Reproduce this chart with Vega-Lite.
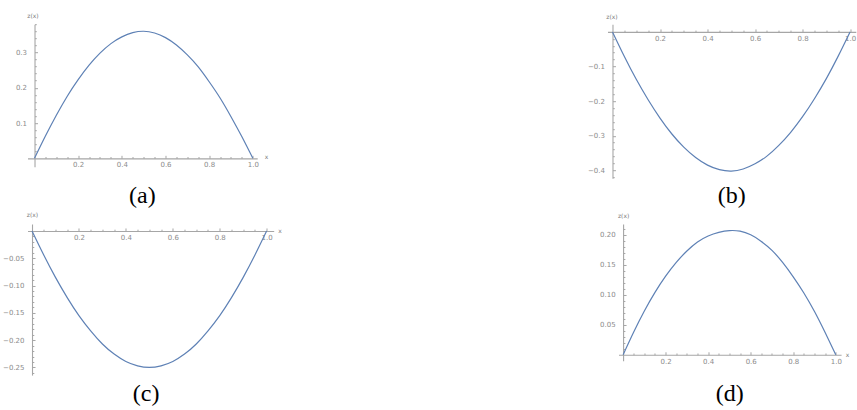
{
  "$schema": "https://vega.github.io/schema/vega-lite/v6.json",
  "padding": {"left": 2.5, "top": 12.2, "right": 0, "bottom": 0},
  "background": "white",
  "config": {
    "view": {"stroke": null},
    "axis": {"grid": false, "labelFont": "DejaVu Sans", "labelFontSize": 7, "labelColor": "#8c8c8c", "domainColor": "#a6a6a6", "domainWidth": 1.1, "tickColor": "#a6a6a6", "titleFont": "DejaVu Sans", "titleFontSize": 6, "titleColor": "#7a7a7a", "titleFontWeight": "normal", "tickSize": 3},
    "title": {"font": "Liberation Serif", "fontSize": 24, "fontWeight": "normal", "color": "black"}
  },
  "datasets": {
    "curves": [
      {"panel": "a", "x": 0, "z": 0}, {"panel": "a", "x": 0.05, "z": 0.063}, {"panel": "a", "x": 0.1, "z": 0.122}, {"panel": "a", "x": 0.15, "z": 0.176}, {"panel": "a", "x": 0.2, "z": 0.223}, {"panel": "a", "x": 0.25, "z": 0.264}, {"panel": "a", "x": 0.3, "z": 0.298}, {"panel": "a", "x": 0.35, "z": 0.325}, {"panel": "a", "x": 0.4, "z": 0.344}, {"panel": "a", "x": 0.45, "z": 0.356}, {"panel": "a", "x": 0.5, "z": 0.36}, {"panel": "a", "x": 0.55, "z": 0.355}, {"panel": "a", "x": 0.6, "z": 0.342}, {"panel": "a", "x": 0.65, "z": 0.321}, {"panel": "a", "x": 0.7, "z": 0.293}, {"panel": "a", "x": 0.75, "z": 0.259}, {"panel": "a", "x": 0.8, "z": 0.217}, {"panel": "a", "x": 0.85, "z": 0.171}, {"panel": "a", "x": 0.9, "z": 0.118}, {"panel": "a", "x": 0.95, "z": 0.061}, {"panel": "a", "x": 1.0, "z": 0},
      {"panel": "b", "x": 0, "z": 0}, {"panel": "b", "x": 0.05, "z": -0.071}, {"panel": "b", "x": 0.1, "z": -0.137}, {"panel": "b", "x": 0.15, "z": -0.196}, {"panel": "b", "x": 0.2, "z": -0.249}, {"panel": "b", "x": 0.25, "z": -0.295}, {"panel": "b", "x": 0.3, "z": -0.333}, {"panel": "b", "x": 0.35, "z": -0.363}, {"panel": "b", "x": 0.4, "z": -0.385}, {"panel": "b", "x": 0.45, "z": -0.398}, {"panel": "b", "x": 0.5, "z": -0.402}, {"panel": "b", "x": 0.55, "z": -0.396}, {"panel": "b", "x": 0.6, "z": -0.381}, {"panel": "b", "x": 0.65, "z": -0.359}, {"panel": "b", "x": 0.7, "z": -0.328}, {"panel": "b", "x": 0.75, "z": -0.29}, {"panel": "b", "x": 0.8, "z": -0.245}, {"panel": "b", "x": 0.85, "z": -0.193}, {"panel": "b", "x": 0.9, "z": -0.135}, {"panel": "b", "x": 0.95, "z": -0.07}, {"panel": "b", "x": 1.0, "z": 0},
      {"panel": "c", "x": 0, "z": 0}, {"panel": "c", "x": 0.05, "z": -0.044}, {"panel": "c", "x": 0.1, "z": -0.085}, {"panel": "c", "x": 0.15, "z": -0.122}, {"panel": "c", "x": 0.2, "z": -0.155}, {"panel": "c", "x": 0.25, "z": -0.183}, {"panel": "c", "x": 0.3, "z": -0.207}, {"panel": "c", "x": 0.35, "z": -0.2255}, {"panel": "c", "x": 0.4, "z": -0.239}, {"panel": "c", "x": 0.45, "z": -0.247}, {"panel": "c", "x": 0.5, "z": -0.25}, {"panel": "c", "x": 0.55, "z": -0.247}, {"panel": "c", "x": 0.6, "z": -0.239}, {"panel": "c", "x": 0.65, "z": -0.2255}, {"panel": "c", "x": 0.7, "z": -0.207}, {"panel": "c", "x": 0.75, "z": -0.183}, {"panel": "c", "x": 0.8, "z": -0.155}, {"panel": "c", "x": 0.85, "z": -0.122}, {"panel": "c", "x": 0.9, "z": -0.085}, {"panel": "c", "x": 0.95, "z": -0.044}, {"panel": "c", "x": 1.0, "z": 0},
      {"panel": "d", "x": 0, "z": 0}, {"panel": "d", "x": 0.05, "z": 0.038}, {"panel": "d", "x": 0.1, "z": 0.073}, {"panel": "d", "x": 0.15, "z": 0.104}, {"panel": "d", "x": 0.2, "z": 0.131}, {"panel": "d", "x": 0.25, "z": 0.154}, {"panel": "d", "x": 0.3, "z": 0.173}, {"panel": "d", "x": 0.35, "z": 0.188}, {"panel": "d", "x": 0.4, "z": 0.198}, {"panel": "d", "x": 0.45, "z": 0.204}, {"panel": "d", "x": 0.5, "z": 0.207}, {"panel": "d", "x": 0.55, "z": 0.206}, {"panel": "d", "x": 0.6, "z": 0.2}, {"panel": "d", "x": 0.65, "z": 0.189}, {"panel": "d", "x": 0.7, "z": 0.174}, {"panel": "d", "x": 0.75, "z": 0.154}, {"panel": "d", "x": 0.8, "z": 0.13}, {"panel": "d", "x": 0.85, "z": 0.103}, {"panel": "d", "x": 0.9, "z": 0.072}, {"panel": "d", "x": 0.95, "z": 0.037}, {"panel": "d", "x": 1.0, "z": 0}
    ]
  },
  "spacing": 3.8,
  "vconcat": [
    {
      "spacing": 318,
      "hconcat": [
        {
          "width": 229.7, "height": 142.6,
          "title": {"text": "(a)", "orient": "bottom", "frame": "group", "offset": 35.3, "baseline": "alphabetic"},
          "data": {"name": "curves"},
          "transform": [{"filter": "datum.panel == 'a'"}],
          "resolve": {"axis": {"x": "independent", "y": "independent"}},
          "layer": [
            {
              "mark": {"type": "line", "color": "#5E81B5", "strokeWidth": 1.2, "interpolate": "natural"},
              "encoding": {
                "x": {"field": "x", "type": "quantitative", "scale": {"domain": [-0.032, 1.02], "nice": false, "zero": false},
                  "axis": {"orient": "bottom", "offset": -8.47, "values": [0.2, 0.4, 0.6, 0.8, 1.0], "format": ".1f", "tickSize": -3, "labelPadding": 5.5, "title": "x", "titleX": 238.6, "titleY": -1.5, "titleAlign": "center", "titleBaseline": "middle"}},
                "y": {"field": "z", "type": "quantitative", "scale": {"domain": [-0.024, 0.38], "nice": false, "zero": false},
                  "axis": {"orient": "left", "offset": -7, "values": [0.1, 0.2, 0.3], "format": ".1f", "tickSize": -3, "labelPadding": 11, "title": "z(x)", "titleX": -2, "titleY": -8.6, "titleAngle": 0, "titleAlign": "center", "titleBaseline": "middle"}}
              }
            },
            {
              "mark": {"type": "line", "strokeOpacity": 0},
              "encoding": {
                "x": {"field": "x", "type": "quantitative", "scale": {"domain": [-0.032, 1.02], "nice": false, "zero": false},
                  "axis": {"orient": "bottom", "offset": -8.47, "values": [0.05, 0.1, 0.15, 0.25, 0.3, 0.35, 0.45, 0.5, 0.55, 0.65, 0.7, 0.75, 0.85, 0.9, 0.95], "labels": false, "domain": false, "tickSize": -1.8, "title": null}},
                "y": {"field": "z", "type": "quantitative", "scale": {"domain": [-0.024, 0.38], "nice": false, "zero": false},
                  "axis": {"orient": "left", "offset": -7, "values": [0.02, 0.04, 0.06, 0.08, 0.12, 0.14, 0.16, 0.18, 0.22, 0.24, 0.26, 0.28, 0.32, 0.34, 0.36, 0.38], "labels": false, "domain": false, "tickSize": -1.8, "title": null}}
              }
            }
          ]
        },
        {
          "width": 248.3, "height": 154.1,
          "title": {"text": "(b)", "orient": "bottom", "frame": "group", "offset": 24.4, "baseline": "alphabetic"},
          "data": {"name": "curves"},
          "transform": [{"filter": "datum.panel == 'b'"}],
          "resolve": {"axis": {"x": "independent", "y": "independent"}},
          "layer": [
            {
              "mark": {"type": "line", "color": "#5E81B5", "strokeWidth": 1.2, "interpolate": "natural"},
              "encoding": {
                "x": {"field": "x", "type": "quantitative", "scale": {"domain": [-0.021, 1.024], "nice": false, "zero": false},
                  "axis": {"orient": "top", "offset": -7.72, "values": [0.2, 0.4, 0.6, 0.8, 1.0], "format": ".1f", "tickSize": 3, "labelPadding": -5.5, "labelBaseline": "top", "title": null}},
                "y": {"field": "z", "type": "quantitative", "scale": {"domain": [-0.423, 0.0223], "nice": false, "zero": false},
                  "axis": {"orient": "left", "offset": -4.99, "values": [-0.1, -0.2, -0.3, -0.4], "format": ".1f", "tickSize": -3, "labelPadding": 11, "title": "z(x)", "titleX": -1, "titleY": -8, "titleAngle": 0, "titleAlign": "center", "titleBaseline": "middle"}}
              }
            },
            {
              "mark": {"type": "line", "strokeOpacity": 0},
              "encoding": {
                "x": {"field": "x", "type": "quantitative", "scale": {"domain": [-0.021, 1.024], "nice": false, "zero": false},
                  "axis": {"orient": "top", "offset": -7.72, "values": [0.05, 0.1, 0.15, 0.25, 0.3, 0.35, 0.45, 0.5, 0.55, 0.65, 0.7, 0.75, 0.85, 0.9, 0.95], "labels": false, "domain": false, "tickSize": 1.8, "title": null}},
                "y": {"field": "z", "type": "quantitative", "scale": {"domain": [-0.423, 0.0223], "nice": false, "zero": false},
                  "axis": {"orient": "left", "offset": -4.99, "values": [-0.02, -0.04, -0.06, -0.08, -0.12, -0.14, -0.16, -0.18, -0.22, -0.24, -0.26, -0.28, -0.32, -0.34, -0.36, -0.38, -0.42], "labels": false, "domain": false, "tickSize": -1.8, "title": null}}
              }
            }
          ]
        }
      ]
    },
    {
      "spacing": 318,
      "hconcat": [
        {
          "width": 246.2, "height": 151.1,
          "title": {"text": "(c)", "orient": "bottom", "frame": "group", "offset": 26.3, "baseline": "alphabetic", "dx": -4.5},
          "data": {"name": "curves"},
          "transform": [{"filter": "datum.panel == 'c'"}],
          "resolve": {"axis": {"x": "independent", "y": "independent"}},
          "layer": [
            {
              "mark": {"type": "line", "color": "#5E81B5", "strokeWidth": 1.2, "interpolate": "natural"},
              "encoding": {
                "x": {"field": "x", "type": "quantitative", "scale": {"domain": [-0.0192, 1.03], "nice": false, "zero": false},
                  "axis": {"orient": "top", "offset": -6.99, "values": [0.2, 0.4, 0.6, 0.8, 1.0], "format": ".1f", "tickSize": 3, "labelPadding": -5.5, "labelBaseline": "top", "title": "x", "titleX": 252.1, "titleY": 0, "titleAlign": "center", "titleBaseline": "middle"}},
                "y": {"field": "z", "type": "quantitative", "scale": {"domain": [-0.264, 0.0128], "nice": false, "zero": false},
                  "axis": {"orient": "left", "offset": -4.5, "values": [-0.05, -0.1, -0.15, -0.2, -0.25], "format": ".2f", "tickSize": -3, "labelPadding": 11, "title": "z(x)", "titleX": 0, "titleY": -9, "titleAngle": 0, "titleAlign": "center", "titleBaseline": "middle"}}
              }
            },
            {
              "mark": {"type": "line", "strokeOpacity": 0},
              "encoding": {
                "x": {"field": "x", "type": "quantitative", "scale": {"domain": [-0.0192, 1.03], "nice": false, "zero": false},
                  "axis": {"orient": "top", "offset": -6.99, "values": [0.05, 0.1, 0.15, 0.25, 0.3, 0.35, 0.45, 0.5, 0.55, 0.65, 0.7, 0.75, 0.85, 0.9, 0.95], "labels": false, "domain": false, "tickSize": 1.8, "title": null}},
                "y": {"field": "z", "type": "quantitative", "scale": {"domain": [-0.264, 0.0128], "nice": false, "zero": false},
                  "axis": {"orient": "left", "offset": -4.5, "values": [-0.01, -0.02, -0.03, -0.04, -0.06, -0.07, -0.08, -0.09, -0.11, -0.12, -0.13, -0.14, -0.16, -0.17, -0.18, -0.19, -0.21, -0.22, -0.23, -0.24, -0.26], "labels": false, "domain": false, "tickSize": -1.8, "title": null}}
              }
            }
          ]
        },
        {
          "width": 222.6, "height": 136.8,
          "title": {"text": "(d)", "orient": "bottom", "frame": "group", "offset": 37, "baseline": "alphabetic"},
          "data": {"name": "curves"},
          "transform": [{"filter": "datum.panel == 'd'"}],
          "resolve": {"axis": {"x": "independent", "y": "independent"}},
          "layer": [
            {
              "mark": {"type": "line", "color": "#5E81B5", "strokeWidth": 1.2, "interpolate": "natural"},
              "encoding": {
                "x": {"field": "x", "type": "quantitative", "scale": {"domain": [-0.0216, 1.025], "nice": false, "zero": false},
                  "axis": {"orient": "bottom", "offset": -6, "values": [0.2, 0.4, 0.6, 0.8, 1.0], "format": ".1f", "tickSize": -3, "labelPadding": 5.5, "title": "x", "titleX": 228.6, "titleY": 0, "titleAlign": "center", "titleBaseline": "middle"}},
                "y": {"field": "z", "type": "quantitative", "scale": {"domain": [-0.01, 0.218], "nice": false, "zero": false},
                  "axis": {"orient": "left", "offset": -4.59, "values": [0.05, 0.1, 0.15, 0.2], "format": ".2f", "tickSize": -3, "labelPadding": 11, "title": "z(x)", "titleX": 0, "titleY": -8, "titleAngle": 0, "titleAlign": "center", "titleBaseline": "middle"}}
              }
            },
            {
              "mark": {"type": "line", "strokeOpacity": 0},
              "encoding": {
                "x": {"field": "x", "type": "quantitative", "scale": {"domain": [-0.0216, 1.025], "nice": false, "zero": false},
                  "axis": {"orient": "bottom", "offset": -6, "values": [0.05, 0.1, 0.15, 0.25, 0.3, 0.35, 0.45, 0.5, 0.55, 0.65, 0.7, 0.75, 0.85, 0.9, 0.95], "labels": false, "domain": false, "tickSize": -1.8, "title": null}},
                "y": {"field": "z", "type": "quantitative", "scale": {"domain": [-0.01, 0.218], "nice": false, "zero": false},
                  "axis": {"orient": "left", "offset": -4.59, "values": [0.01, 0.02, 0.03, 0.04, 0.06, 0.07, 0.08, 0.09, 0.11, 0.12, 0.13, 0.14, 0.16, 0.17, 0.18, 0.19, 0.21], "labels": false, "domain": false, "tickSize": -1.8, "title": null}}
              }
            }
          ]
        }
      ]
    }
  ]
}
